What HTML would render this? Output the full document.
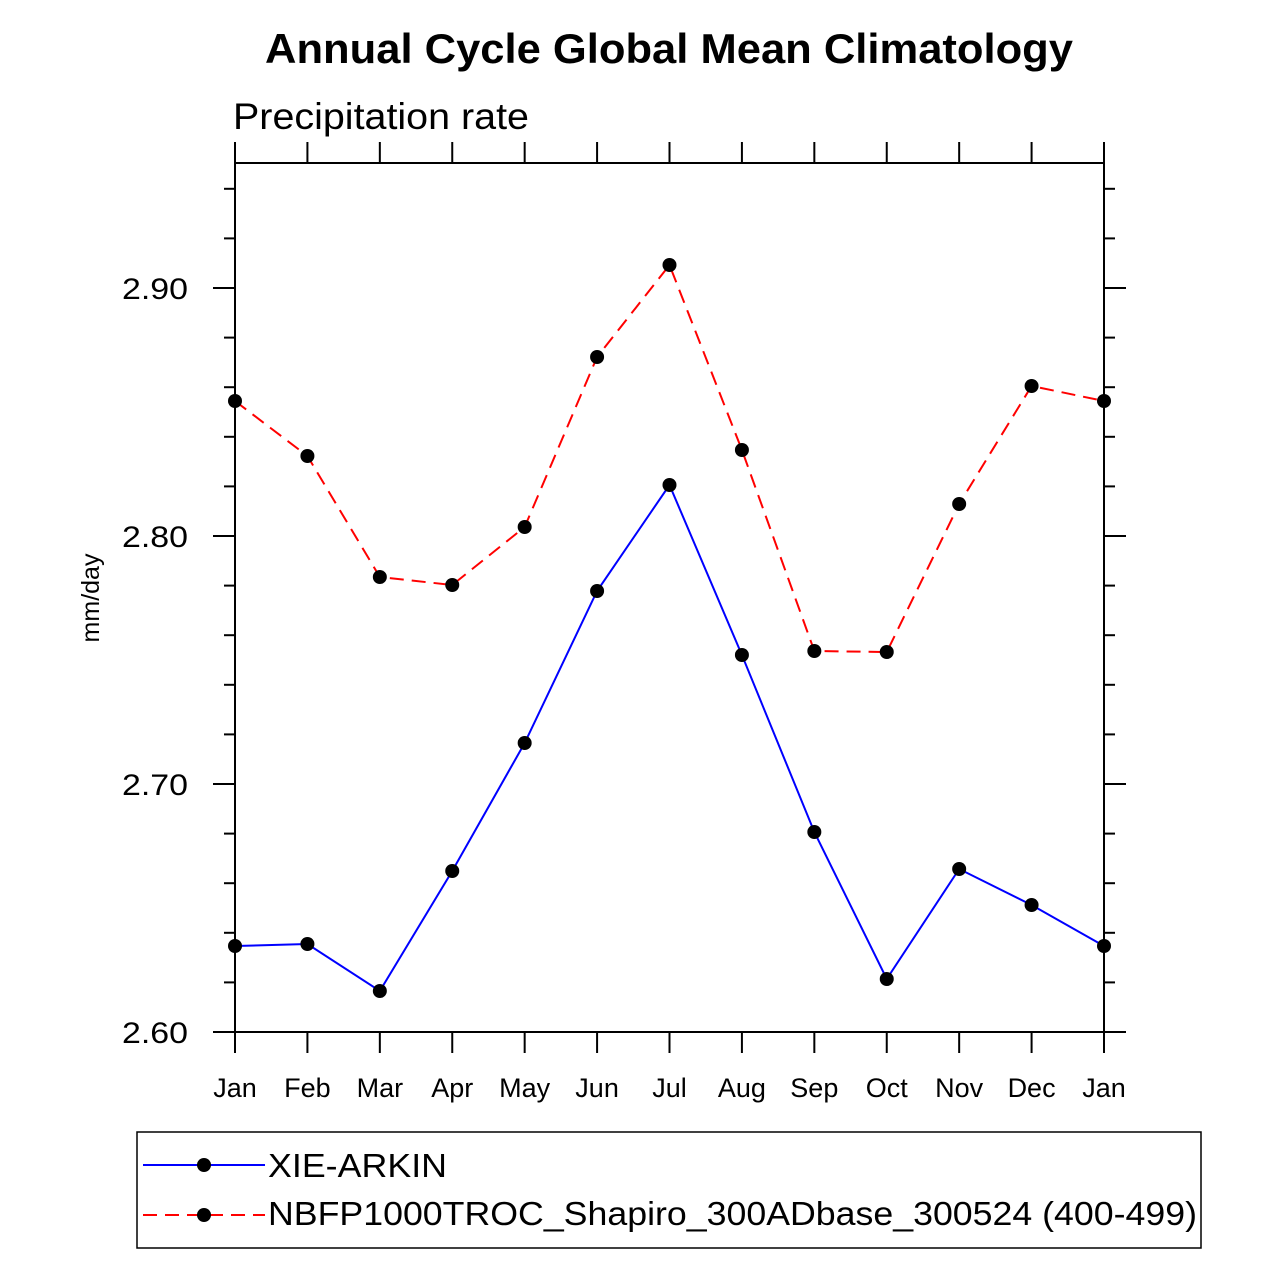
<!DOCTYPE html>
<html><head><style>body{margin:0;background:#fff}</style></head><body>
<svg width="1279" height="1279" xmlns="http://www.w3.org/2000/svg" font-family="Liberation Sans, Arial, sans-serif">
<rect width="1279" height="1279" fill="#fff"/>
<text x="265" y="63" font-size="42" font-weight="bold" textLength="808" lengthAdjust="spacingAndGlyphs">Annual Cycle Global Mean Climatology</text>
<text x="233" y="129" font-size="37" textLength="296" lengthAdjust="spacingAndGlyphs">Precipitation rate</text>
<rect x="235" y="163" width="869" height="869" fill="none" stroke="#000" stroke-width="2"/>
<g stroke="#000" stroke-width="2" id="ticks"></g>
<g font-size="27" id="xl"></g>
<g font-size="30" id="yl"></g>
<text transform="translate(99,598) rotate(-90)" font-size="25" text-anchor="middle">mm/day</text>
<polyline id="blue" fill="none" stroke="#0000ff" stroke-width="2"/>
<polyline id="red" fill="none" stroke="#ff0000" stroke-width="2" stroke-dasharray="14,8"/>
<g id="dots"></g>
<rect x="137" y="1132" width="1064" height="116" fill="none" stroke="#000" stroke-width="1.5"/>
<line x1="143" y1="1165" x2="265" y2="1165" stroke="#0000ff" stroke-width="2"/>
<circle cx="204" cy="1165" r="7"/>
<text x="268" y="1177" font-size="33" textLength="179" lengthAdjust="spacingAndGlyphs">XIE-ARKIN</text>
<line x1="143" y1="1215" x2="265" y2="1215" stroke="#ff0000" stroke-width="2" stroke-dasharray="14,8"/>
<circle cx="204" cy="1215" r="7"/>
<text x="268" y="1225" font-size="33" textLength="929" lengthAdjust="spacingAndGlyphs">NBFP1000TROC_Shapiro_300ADbase_300524 (400-499)</text>
</svg>
<script>
var ns="http://www.w3.org/2000/svg";
function el(p,t,a,txt){var e=document.createElementNS(ns,t);for(var k in a)e.setAttribute(k,a[k]);if(txt)e.textContent=txt;document.getElementById(p).appendChild(e);return e;}
var m=["Jan","Feb","Mar","Apr","May","Jun","Jul","Aug","Sep","Oct","Nov","Dec","Jan"];
var b=[946,944,991,871,743,591,485,655,832,979,869,905,946];
var r=[401,456,577,585,527,357,265,450,651,652,504,386,401];
var bp=[],rp=[];
for(var i=0;i<13;i++){var x=235+i*869/12;
el("ticks","line",{x1:x,y1:1032,x2:x,y2:1053});
el("ticks","line",{x1:x,y1:142,x2:x,y2:163});
el("xl","text",{x:x,y:1097,"text-anchor":"middle"},m[i]);
bp.push(x+","+b[i]);rp.push(x+","+r[i]);}
for(var j=0;j<=17;j++){var y=1032-j*49.6;var maj=j%5==0;var L=maj?22:11;
el("ticks","line",{x1:235-L,y1:y,x2:235,y2:y});
el("ticks","line",{x1:1104,y1:y,x2:1104+L,y2:y});
if(maj)el("yl","text",{x:122,y:y+11,textLength:66,lengthAdjust:"spacingAndGlyphs"},(2.6+j*0.02).toFixed(2));}
document.getElementById("blue").setAttribute("points",bp.join(" "));
document.getElementById("red").setAttribute("points",rp.join(" "));
for(var i=0;i<13;i++){var x=235+i*869/12;el("dots","circle",{cx:x,cy:b[i],r:7});el("dots","circle",{cx:x,cy:r[i],r:7});}
</script>
</body></html>
